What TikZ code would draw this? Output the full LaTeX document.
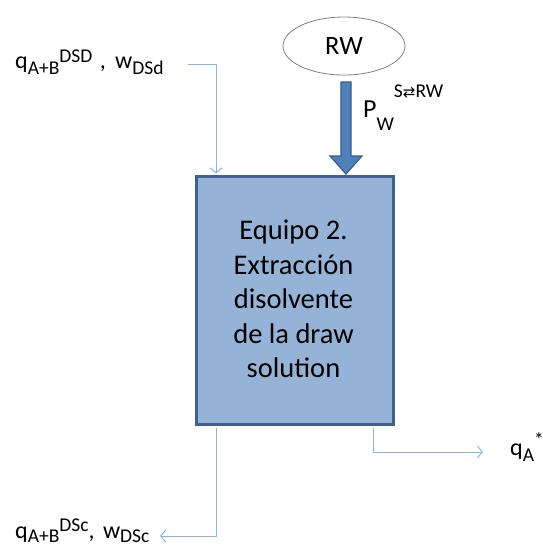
\documentclass[tikz,border=0pt]{standalone}
\usepackage{fontspec}
\setmainfont{Carlito}
\newfontfamily\dejavu{DejaVu Sans}
\usetikzlibrary{arrows.meta,shapes.geometric,calc}
\definecolor{boxfill}{HTML}{95B3D7}
\definecolor{boxedge}{HTML}{3E6190}
\definecolor{arrfill}{HTML}{4F81BD}
\definecolor{arredge}{HTML}{385D8A}
\definecolor{flow}{HTML}{8EB4E3}
\definecolor{elledge}{HTML}{7F7F7F}
\newcommand{\lowscript}[2][6pt]{\raisebox{-#1}{\fontsize{19.5}{19.5}\selectfont #2}}
\newcommand{\highscript}[2][7pt]{\raisebox{#1}{\fontsize{19.5}{19.5}\selectfont #2}}
\tikzset{
  flowline/.style={draw=flow, line width=1pt, -{Straight Barb[length=5pt,width=12pt]}},
  lbl/.style={anchor=base west, inner sep=0pt, font=\fontsize{24}{24}\selectfont},
}
\begin{document}
\begin{tikzpicture}[x=1pt,y=-1pt]
\useasboundingbox (0,0) rectangle (543,550);
% main box
\node[draw=boxedge, line width=3pt, fill=boxfill, minimum width=197pt, minimum height=248pt,
      inner sep=0pt, anchor=north west] (box) at (195,175) {};
\node[align=center, font=\fontsize{28.5}{34.5}\selectfont] (boxtxt) at (293.5,299)
  {Equipo 2.\\Extracción\\disolvente\\de la draw\\solution};
% RW ellipse
\node[ellipse, draw=elledge, line width=0.8pt, minimum width=122pt, minimum height=58pt,
      inner sep=0pt, font=\fontsize{26.5}{26.5}\selectfont] (rw) at (344,46) {RW};
% thick arrow from RW to box
\coordinate (tip) at ($(rw.south |- box.north)+(2,-1)$);
\filldraw[fill=arrfill, draw=arredge, line width=1.2pt]
  ($(tip)+(-5,-92)$) -- ($(tip)+(5,-92)$) -- ($(tip)+(5,-18)$) -- ($(tip)+(16,-18)$)
  -- (tip) -- ($(tip)+(-16,-18)$) -- ($(tip)+(-5,-18)$) -- cycle;
\node[lbl, font=\fontsize{26}{26}\selectfont] (pw) at (363,117)
  {P\lowscript[13pt]{W}\highscript[20pt]{S{\dejavu\fontsize{15}{15}\selectfont ⇄}RW}};
% input top-left
\node[lbl] (lin) at (15,68) {q\lowscript{A+B}\highscript[6pt]{DSD}\hspace{2pt} ,\hspace{4pt} w\lowscript{DSd}};
\coordinate (inStart) at (188,64);
\coordinate (inEnd) at ($(box.north west)+(21,-1.5)$);
\draw[flowline] (inStart) -| (inEnd);
% output bottom-left
\node[lbl] (lout) at (15,538) {q\lowscript[4pt]{A+B}\highscript[7pt]{DSc}, \hspace{3pt}w\lowscript[4pt]{DSc}};
\coordinate (outStart) at ($(box.south west)+(21,1.5)$);
\coordinate (outEnd) at (160,536);
\draw[flowline] (outStart) |- (outEnd);
% output right
\node[lbl] (lqa) at (510,455) {q\lowscript[6pt]{A}\highscript[9pt]{*}};
\coordinate (qaStart) at ($(box.south west)+(178,1.5)$);
\coordinate (qaEnd) at (483,452);
\draw[flowline] (qaStart) |- (qaEnd);
\end{tikzpicture}
\end{document}
